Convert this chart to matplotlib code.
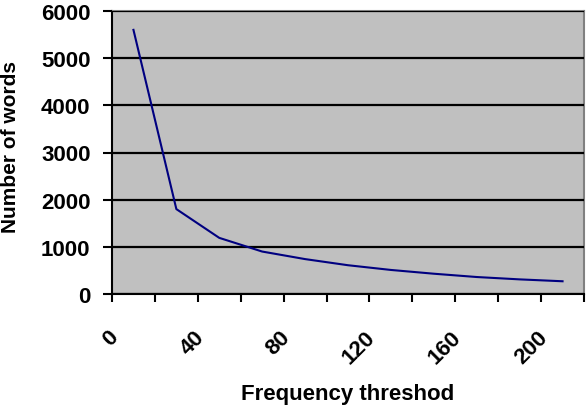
import numpy as np
import matplotlib.pyplot as plt
from matplotlib.transforms import ScaledTranslation

# frequency threshold categories and number of words kept
thresholds = [0, 20, 40, 60, 80, 100, 120, 140, 160, 180, 200]
num_words = [5600, 1800, 1190, 900, 740, 610, 510, 430, 360, 310, 270]
y_ticks = [0, 1000, 2000, 3000, 4000, 5000, 6000]

plt.rcParams['font.family'] = ['Liberation Sans', 'DejaVu Sans']
plt.rcParams['font.weight'] = 'bold'

fig = plt.figure(figsize=(5.88, 4.14), dpi=100)
ax = fig.add_axes([112 / 588, 1 - 295 / 414, 472 / 588, 283 / 414])

# category axis: points sit in the middle of each slot
pos = np.arange(len(thresholds)) + 0.5
ax.set_facecolor('#c0c0c0')
ax.plot(pos, num_words, color='#000080', linewidth=1.5, zorder=3)

ax.set_xlim(0, len(thresholds))
ax.set_ylim(0, 6000)
ax.set_yticks(y_ticks)
ax.set_yticklabels([str(v) for v in y_ticks], fontsize=16)
ax.grid(axis='y', color='black', linewidth=1.6)
ax.set_axisbelow(False)

# major ticks at slot boundaries, labels on every second slot
ax.set_xticks(np.arange(len(thresholds) + 1))
ax.set_xticklabels([])
ax.set_xticks(pos[::2], minor=True)
ax.set_xticklabels([str(t) for t in thresholds[::2]], minor=True,
                   rotation=45, ha='right', va='top', fontsize=16)
ax.tick_params(axis='x', which='major', length=6, width=1.5, direction='out')
ax.tick_params(axis='x', which='minor', length=0, pad=23)
ax.tick_params(axis='y', length=6.5, width=1.5, direction='out', pad=9)
shift = ScaledTranslation(-0.11, 0, fig.dpi_scale_trans)
for lab in ax.get_xticklabels(minor=True):
    lab.set_transform(lab.get_transform() + shift)

for side in ['left', 'bottom']:
    ax.spines[side].set_color('black')
    ax.spines[side].set_linewidth(1.5)
for side in ['top', 'right']:
    ax.spines[side].set_color('#808080')
    ax.spines[side].set_linewidth(1.5)

fig.text(348 / 588, 1 - 395 / 414, 'Frequency threshod', ha='center', va='center',
         fontsize=16, fontweight='bold')
fig.text(11 / 588, 1 - 147 / 414, 'Number of words', ha='center', va='center',
         rotation=90, fontsize=15, fontweight='bold')

fig.savefig('out.png', dpi=100)
